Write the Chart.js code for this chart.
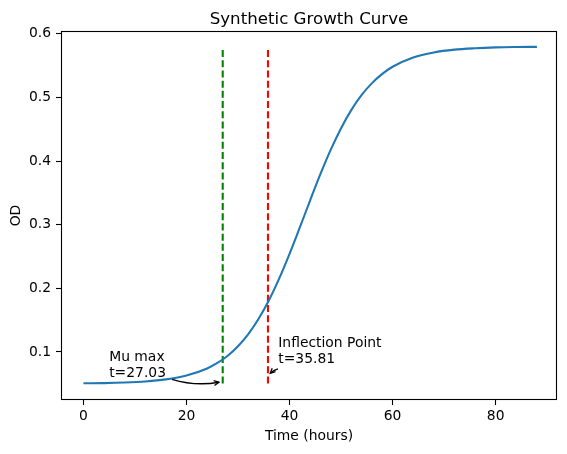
<!DOCTYPE html>
<html><head><meta charset="utf-8">
<script src="https://cdn.jsdelivr.net/npm/chart.js@4"></script>
<style>html,body{margin:0;padding:0;background:#fff}#wrap{width:567px;height:454px}</style>
</head><body><div id="wrap"><canvas id="c" width="567" height="454"></canvas></div>
<script>
const times = [0,4,8,12,16,20,24,26,28,30,32,34,36,38,40,42,44,46,48,50,52,54,56,58,60,64,68,72,76,80,84,88];
const od = [0.0507,0.0510,0.0519,0.0536,0.0569,0.0630,0.0741,0.0827,0.0941,0.1090,0.1281,0.1521,0.1813,0.2156,0.2542,0.2958,0.3384,0.3798,0.4180,0.4518,0.4805,0.5040,0.5226,0.5371,0.5483,0.5628,0.5708,0.5752,0.5774,0.5787,0.5793,0.5796];
const muMaxTime = 27.03;
const inflectionTime = 35.81;
const markerRange = [0.0505, 0.5796];
const xTicks = [0, 20, 40, 60, 80];
const xTickLabels = ['0', '20', '40', '60', '80'];
const yTicks = [0.1, 0.2, 0.3, 0.4, 0.5, 0.6];
const yTickLabels = ['0.1', '0.2', '0.3', '0.4', '0.5', '0.6'];
const muLabel = ['Mu max', 't=27.03'];
const inflLabel = ['Inflection Point', 't=35.81'];
const muText = [5, 0.0602];
const muArrow = [[17.2, 0.0571], [26.3, 0.0524]];
const inflText = [37.81, 0.0822];
const inflArrow = [[37.75, 0.0733], [36.25, 0.0665]];

const FONT = 'DejaVu Sans';
const FS = 13.89;

const annotPlugin = {
  id: 'annot',
  afterDraw(chart) {
    const {ctx, chartArea: a, scales: {x, y}} = chart;
    ctx.save();
    // frame
    ctx.strokeStyle = '#000'; ctx.lineWidth = 1.1;
    ctx.strokeRect(Math.round(a.left) + 0.5, Math.round(a.top) + 0.5, Math.round(a.right - a.left) - 1, Math.round(a.bottom - a.top) - 1);
    // title
    ctx.fillStyle = '#000';
    ctx.font = '16.67px "' + FONT + '"';
    ctx.textAlign = 'center'; ctx.textBaseline = 'alphabetic';
    ctx.fillText('Synthetic Growth Curve', (a.left + a.right) / 2, 24);
    // annotation texts
    ctx.font = FS + 'px "' + FONT + '"';
    ctx.textAlign = 'left';
    const drawLabel = (lines, pos) => {
      const px = x.getPixelForValue(pos[0]), py = y.getPixelForValue(pos[1]);
      for (let i = 0; i < lines.length; i++) {
        ctx.fillText(lines[i], px, py - (lines.length - 1 - i) * 16.3);
      }
    };
    drawLabel(muLabel, muText);
    drawLabel(inflLabel, inflText);
    // arrows
    const drawArrow = (pts, bend) => {
      const x0 = x.getPixelForValue(pts[0][0]), y0 = y.getPixelForValue(pts[0][1]);
      const x1 = x.getPixelForValue(pts[1][0]), y1 = y.getPixelForValue(pts[1][1]);
      const mx = (x0 + x1) / 2, my = (y0 + y1) / 2;
      const dx = x1 - x0, dy = y1 - y0;
      const cx = mx - bend * dy, cy = my + bend * dx;
      ctx.strokeStyle = '#000'; ctx.lineWidth = 1.3;
      ctx.beginPath(); ctx.moveTo(x0, y0); ctx.quadraticCurveTo(cx, cy, x1, y1); ctx.stroke();
      const ang = Math.atan2(y1 - cy, x1 - cx);
      const hl = 5.5, hw = 0.45;
      ctx.beginPath();
      ctx.moveTo(x1 - hl * Math.cos(ang - hw), y1 - hl * Math.sin(ang - hw));
      ctx.lineTo(x1, y1);
      ctx.lineTo(x1 - hl * Math.cos(ang + hw), y1 - hl * Math.sin(ang + hw));
      ctx.stroke();
    };
    drawArrow(muArrow, 0.12);
    drawArrow(inflArrow, 0.12);
    ctx.restore();
  }
};

new Chart(document.getElementById('c'), {
  type: 'line',
  data: {
    datasets: [
      {
        data: times.map((t, i) => ({x: t, y: od[i]})),
        borderColor: '#1f77b4', borderWidth: 2.08, pointRadius: 0,
        cubicInterpolationMode: 'monotone', fill: false
      },
      {
        data: markerRange.map(v => ({x: muMaxTime, y: v})),
        borderColor: '#008000', borderWidth: 2.08, borderDash: [7, 3.2], pointRadius: 0, tension: 0
      },
      {
        data: markerRange.map(v => ({x: inflectionTime, y: v})),
        borderColor: '#ff0000', borderWidth: 2.08, borderDash: [7, 3.2], pointRadius: 0, tension: 0
      }
    ]
  },
  options: {
    responsive: false, animation: false, devicePixelRatio: 1,
    layout: {padding: {left: 0, right: 10, top: 31, bottom: 0}},
    plugins: {legend: {display: false}, tooltip: {enabled: false}, title: {display: false}},
    scales: {
      x: {
        type: 'linear', min: -4.35, max: 91.9,
        afterBuildTicks: s => { s.ticks = xTicks.map(v => ({value: v})); },
        afterFit: s => { s.height = 54; },
        ticks: {callback: (v, i) => xTickLabels[i], color: '#000', font: {family: FONT, size: FS}, padding: 3, maxRotation: 0},
        grid: {display: true, drawOnChartArea: false, drawTicks: true, tickLength: 5, tickColor: '#000', tickWidth: 1.1},
        border: {display: false},
        title: {display: true, text: 'Time (hours)', color: '#000', font: {family: FONT, size: FS}, padding: {top: 0, bottom: 9}}
      },
      y: {
        type: 'linear', min: 0.0245, max: 0.6045,
        afterBuildTicks: s => { s.ticks = yTicks.map(v => ({value: v})); },
        afterFit: s => { s.width = 61; },
        ticks: {callback: (v, i) => yTickLabels[i], color: '#000', font: {family: FONT, size: FS}, padding: 5},
        grid: {display: true, drawOnChartArea: false, drawTicks: true, tickLength: 5, tickColor: '#000', tickWidth: 1.1},
        border: {display: false},
        title: {display: true, text: 'OD', color: '#000', font: {family: FONT, size: FS}, padding: {top: 8, bottom: 0}}
      }
    }
  },
  plugins: [annotPlugin]
});
</script></body></html>
